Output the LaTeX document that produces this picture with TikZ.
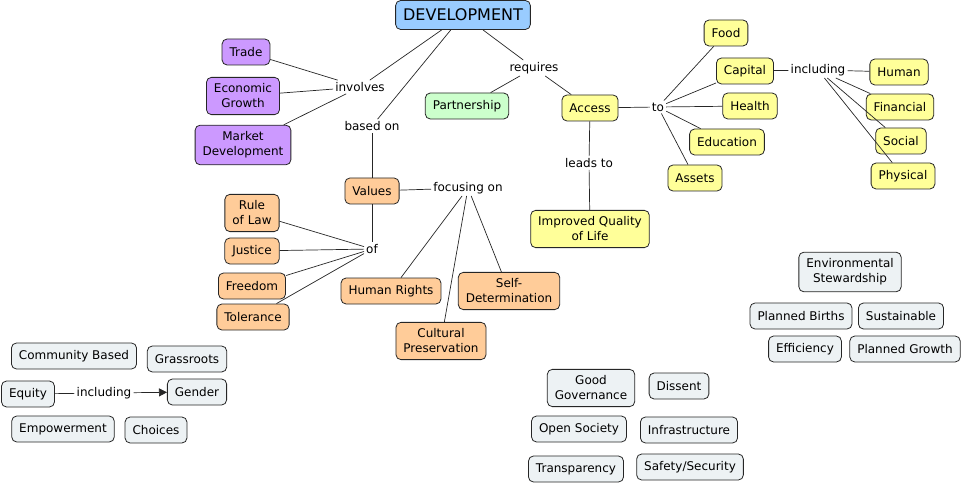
\documentclass[tikz,border=0pt]{standalone}
\usepackage{fontspec}
\setmainfont{DejaVu Sans}
\usetikzlibrary{arrows.meta}
\definecolor{cblue}{HTML}{99CCFF}
\definecolor{cpurple}{HTML}{CC99FF}
\definecolor{cgreen}{HTML}{CCFFCC}
\definecolor{cyellow}{HTML}{FFFF99}
\definecolor{corange}{HTML}{FFCC99}
\definecolor{cgray}{HTML}{EDF2F4}
\begin{document}
\begin{tikzpicture}[x=1pt,y=-1pt,
  box/.style={draw=black!85, rounded corners=5pt, line width=0.8pt, inner xsep=7.5pt, inner ysep=6.5pt,
    minimum height=26pt, align=center, font=\fontsize{12}{15}\selectfont},
  lbl/.style={inner sep=2pt, font=\fontsize{12}{15}\selectfont},
  conn/.style={line width=0.7pt, black!85},
  pbox/.style={box, fill=cpurple},
  ybox/.style={box, fill=cyellow},
  obox/.style={box, fill=corange},
  gbox/.style={box, fill=cgray}
]
\useasboundingbox (0,0) rectangle (963,486);

\node[box, fill=cblue, font=\fontsize{16}{19}\selectfont, minimum height=29pt, inner ysep=4pt] (dev) at (463,15) {DEVELOPMENT};

\node[pbox] (trade) at (246,52) {Trade};
\node[pbox] (econ) at (243,96) {Economic\\Growth};
\node[pbox] (market) at (243,145) {Market\\Development};
\node[lbl] (involves) at (360,87) {involves};
\node[lbl] (basedon) at (372,126) {based on};
\node[lbl] (requires) at (534,68) {requires};
\node[box, fill=cgreen] (partner) at (467,106) {Partnership};
\node[ybox] (access) at (590,108) {Access};
\node[lbl] (to) at (658,107) {to};
\node[ybox] (food) at (726,33) {Food};
\node[ybox] (capital) at (745,71) {Capital};
\node[lbl] (incl) at (818,70) {including};
\node[ybox] (human) at (899,72) {Human};
\node[ybox] (financial) at (900,107) {Financial};
\node[ybox] (social) at (901,141) {Social};
\node[ybox] (physical) at (903,176) {Physical};
\node[ybox] (health) at (750,106) {Health};
\node[ybox] (education) at (727,142) {Education};
\node[ybox] (assets) at (695,178) {Assets};
\node[lbl] (leadsto) at (589,163) {leads to};
\node[ybox] (iql) at (590,229) {Improved Quality\\of Life};

\node[obox] (values) at (372,191) {Values};
\node[lbl] (focusing) at (468,188) {focusing on};
\node[obox] (rule) at (252,213) {Rule\\of Law};
\node[obox] (justice) at (252,251) {Justice};
\node[obox] (freedom) at (252,286) {Freedom};
\node[obox] (tolerance) at (253,317) {Tolerance};
\node[lbl] (of) at (372,249) {of};
\node[obox] (hrights) at (391,291) {Human Rights};
\node[obox] (selfdet) at (509,291) {Self-\\Determination};
\node[obox] (cultural) at (441,341) {Cultural\\Preservation};

\node[gbox] (community) at (74,356) {Community Based};
\node[gbox] (grass) at (187,359) {Grassroots};
\node[gbox] (equity) at (28,394) {Equity};
\node[lbl] (incl2) at (104,393) {including};
\node[gbox] (gender) at (197,392) {Gender};
\node[gbox] (empower) at (63,429) {Empowerment};
\node[gbox] (choices) at (156,430) {Choices};

\node[gbox] (goodgov) at (591,388) {Good\\Governance};
\node[gbox] (dissent) at (679,386) {Dissent};
\node[gbox] (opensoc) at (579,429) {Open Society};
\node[gbox] (infra) at (689,430) {Infrastructure};
\node[gbox] (transp) at (576,469) {Transparency};
\node[gbox] (safety) at (690,467) {Safety/Security};

\node[gbox] (env) at (850,272) {Environmental\\Stewardship};
\node[gbox] (pbirths) at (801,316) {Planned Births};
\node[gbox] (sustain) at (901,316) {Sustainable};
\node[gbox] (effic) at (805,349) {Efficiency};
\node[gbox] (pgrowth) at (905,349) {Planned Growth};

\draw[conn] (dev) -- (involves);
\draw[conn] (involves) -- (trade);
\draw[conn] (involves) -- (econ);
\draw[conn] (involves) -- (market);
\draw[conn] (dev) -- (basedon);
\draw[conn] (basedon) -- (values);
\draw[conn] (dev) -- (requires);
\draw[conn] (requires) -- (partner);
\draw[conn] (requires) -- (access);
\draw[conn] (access) -- (to);
\draw[conn] (to) -- (food);
\draw[conn] (to) -- (capital);
\draw[conn] (to) -- (health);
\draw[conn] (to) -- (education);
\draw[conn] (to) -- (assets);
\draw[conn] (capital) -- (incl);
\draw[conn] (incl) -- (human);
\draw[conn] (incl) -- (financial);
\draw[conn] (incl) -- (social);
\draw[conn] (incl) -- (physical);
\draw[conn] (access) -- (leadsto);
\draw[conn] (leadsto) -- (iql);
\draw[conn] (values) -- (focusing);
\draw[conn] (focusing) -- (hrights);
\draw[conn] (focusing) -- (selfdet);
\draw[conn] (focusing) -- (cultural);
\draw[conn] (values) -- (of);
\draw[conn] (of) -- (rule);
\draw[conn] (of) -- (justice);
\draw[conn] (of) -- (freedom);
\draw[conn] (of) -- (tolerance);
\draw[conn] (equity) -- (incl2);
\draw[conn, -{Triangle[length=8pt,width=8pt]}] (incl2) -- (gender);
\end{tikzpicture}
\end{document}
